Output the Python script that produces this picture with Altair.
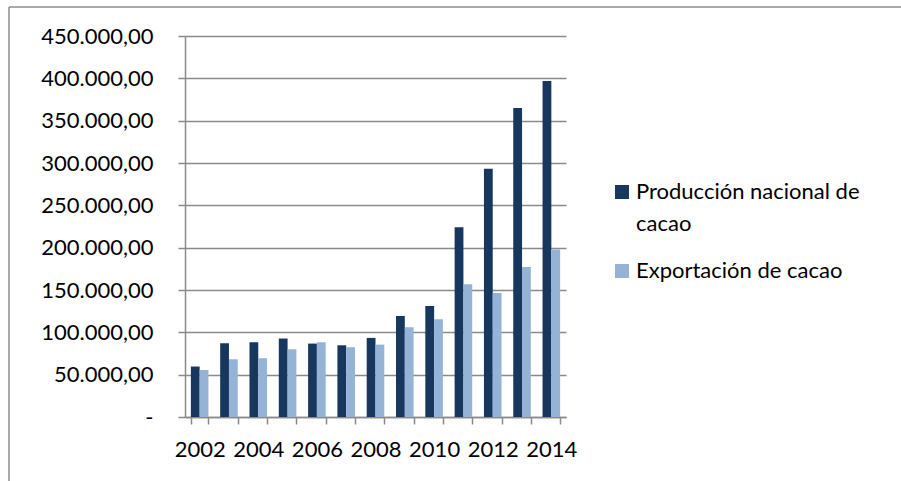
import altair as alt
import pandas as pd

# Cocoa production and exports per year (tonnes)
years = [str(y) for y in range(2002, 2015)]
produccion = [59600, 87100, 88300, 92700, 86700, 84700, 93400,
              119400, 131200, 224100, 293200, 365000, 396800]
exportacion = [55600, 68200, 69400, 80000, 88300, 82400, 85500,
               106000, 115500, 156900, 146600, 177300, 197900]
series = ["Producción nacional de cacao", "Exportación de cacao"]
colors = ["#17375E", "#95B3D7"]
y_ticks = list(range(0, 450001, 50000))

rows = []
for i, yr in enumerate(years):
    rows.append({"anio": yr, "serie": series[0], "valor": produccion[i]})
    rows.append({"anio": yr, "serie": series[1], "valor": exportacion[i]})
df = pd.DataFrame(rows)

FONT = "Lato"
GRID = "#8A8A8A"

bars = alt.Chart(df).mark_bar().encode(
    x=alt.X(
        "anio:N",
        title=None,
        scale=alt.Scale(paddingInner=0.4, paddingOuter=0.2),
        axis=alt.Axis(
            labelAngle=0,
            tickBand="extent",
            tickSize=7,
            tickColor=GRID,
            tickWidth=1.5,
            domainColor=GRID,
            domainWidth=1.5,
            labelPadding=15,
            labelExpr="toNumber(datum.value) % 2 == 0 ? datum.value : ''",
        ),
    ),
    xOffset=alt.XOffset("serie:N", sort=series, scale=alt.Scale(paddingInner=0)),
    y=alt.Y(
        "valor:Q",
        title=None,
        scale=alt.Scale(domain=[0, 450000], nice=False),
        axis=alt.Axis(
            values=y_ticks,
            tickSize=7,
            tickColor=GRID,
            tickWidth=1.5,
            domainColor=GRID,
            domainWidth=1.5,
            gridColor=GRID,
            gridWidth=1.5,
            labelPadding=25,
            labelExpr="datum.value == 0 ? '-' : floor(datum.value / 1000) + '.000,00'",
        ),
    ),
    color=alt.Color(
        "serie:N",
        sort=series,
        scale=alt.Scale(domain=series, range=colors),
        legend=alt.Legend(
            title=None,
            orient="none",
            legendX=426,
            legendY=145,
            padding=0,
            symbolType="square",
            symbolSize=196,
            symbolStrokeWidth=0,
            labelOffset=3,
            labelLimit=400,
            rowPadding=25,
            labelExpr="datum.label == 'Producción nacional de cacao' ? ['Producción nacional de', 'cacao'] : datum.label",
        ),
    ),
)

# Outer frame lines of the chart box
frame_left = alt.Chart().mark_rule(color="#8C8C8C", strokeWidth=1.5).encode(
    x=alt.value(-176), y=alt.value(-29), y2=alt.value(460)
)
frame_top = alt.Chart().mark_rule(color="#8C8C8C", strokeWidth=1.5).encode(
    x=alt.value(-176), x2=alt.value(720), y=alt.value(-29)
)

chart = alt.layer(frame_left, frame_top, bars).properties(
    width=381,
    height=381,
    autosize=alt.AutoSizeParams(type="none"),
    padding={"left": 185, "top": 36, "right": 335, "bottom": 64},
    background="white",
).configure(
    style={"guide-label": {"lineHeight": 32}}
).configure_view(
    stroke=None
).configure_axis(
    labelFont=FONT,
    labelFontSize=22,
    labelColor="#000000",
).configure_legend(
    labelFont=FONT,
    labelFontSize=22,
    labelColor="#000000",
)

chart.save("out.html", embed_options={"renderer": "svg", "actions": False})
